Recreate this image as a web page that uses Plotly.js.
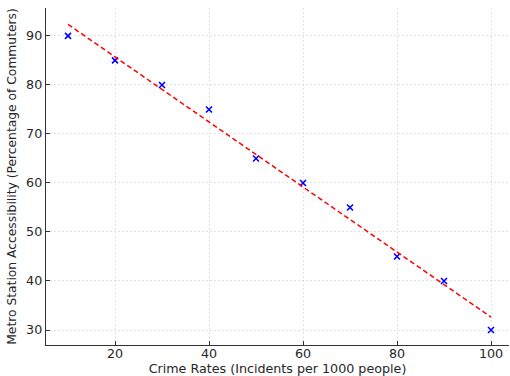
<!DOCTYPE html>
<html>
<head>
<meta charset="utf-8">
<script src="https://cdn.plot.ly/plotly-3.0.1.min.js"></script>
<style>html,body{margin:0;padding:0;background:#fff;}#chart{width:510px;height:376px;}</style>
</head>
<body>
<div id="chart"></div>
<script>
const crimeRates = [10, 20, 30, 40, 50, 60, 70, 80, 90, 100];
const accessibility = [90, 85, 80, 75, 65, 60, 55, 45, 40, 30];
const fitX = [10, 100];
const fitY = [92.36, 32.64];
const xTicks = [20, 40, 60, 80, 100];
const yTicks = [30, 40, 50, 60, 70, 80, 90];

const traces = [
  {
    x: crimeRates, y: accessibility, type: 'scatter', mode: 'markers',
    marker: {symbol: 'x-thin', size: 6, color: 'blue', line: {color: 'blue', width: 1.6}},
    showlegend: false
  },
  {
    x: fitX, y: fitY, type: 'scatter', mode: 'lines',
    line: {color: 'red', width: 1.5, dash: '5px,3px'},
    showlegend: false
  }
];

const axFont = {family: 'DejaVu Sans', size: 12.7, color: '#262626'};
const yTitleFont = {family: 'DejaVu Sans', size: 12.3, color: '#262626'};
const layout = {
  width: 510, height: 376,
  margin: {l: 46, r: 1, t: 8, b: 31},
  paper_bgcolor: '#fff', plot_bgcolor: '#fff',
  font: axFont,
  xaxis: {
    range: [5.32, 103.83], tickvals: xTicks, ticktext: xTicks.map(String),
    ticks: 'inside', ticklen: 4, tickcolor: '#333', tickfont: axFont, ticklabelstandoff: -3,
    showgrid: true, gridcolor: '#cfcfcf', griddash: '2px,2px', gridwidth: 0.6,
    showline: true, linecolor: '#333', linewidth: 1.2, zeroline: false, mirror: false,
    title: {text: 'Crime Rates (Incidents per 1000 people)', font: axFont, standoff: 6}
  },
  yaxis: {
    range: [26.94, 95.7], tickvals: yTicks, ticktext: yTicks.map(String),
    ticks: 'inside', ticklen: 4, tickcolor: '#333', tickfont: axFont,
    showgrid: true, gridcolor: '#cfcfcf', griddash: '2px,2px', gridwidth: 0.6,
    showline: true, linecolor: '#333', linewidth: 1.2, zeroline: false, mirror: false,
    title: {text: 'Metro Station Accessibility (Percentage of Commuters)', font: yTitleFont, standoff: 6}
  }
};

Plotly.newPlot('chart', traces, layout, {displayModeBar: false, staticPlot: true});
</script>
</body>
</html>
